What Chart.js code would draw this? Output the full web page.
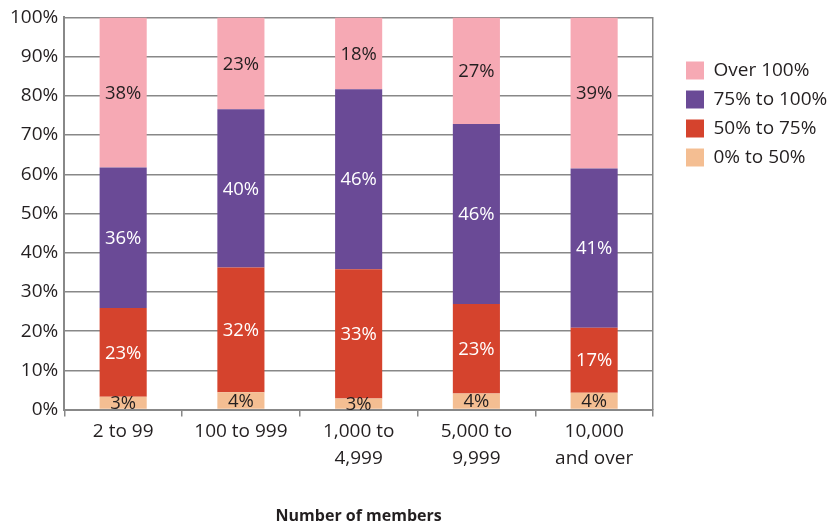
<!DOCTYPE html>
<html>
<head>
<meta charset="utf-8">
<script src="https://cdn.jsdelivr.net/npm/chart.js@4.4.1/dist/chart.umd.min.js"></script>
<style>
    html, body { margin: 0; padding: 0; background: #fff; }
    #wrap { width: 828px; height: 528px; }
</style>
</head>
<body>
<div id="wrap"><canvas id="chart"></canvas></div>
<script>
// categories along the x axis
var categories = ["2 to 99", "100 to 999", ["1,000 to", "4,999"], ["5,000 to", "9,999"], ["10,000", "and over"]];
var seriesNames = ["0% to 50%", "50% to 75%", "75% to 100%", "Over 100%"];

// share of plans in each funding band
var under50 = [3.3, 4.4, 2.8, 4.1, 4.3];
var from50to75 = [22.6, 31.8, 33.0, 22.8, 16.6];
var from75to100 = [35.8, 40.4, 45.9, 45.9, 40.6];
var over100 = [38.3, 23.4, 18.3, 27.2, 38.5];

var yMin = 0, yMax = 100, yStep = 10;

var barColors = ["#f4be92", "#d5432d", "#6a4a96", "#f6a9b4"];
var labelColors = ["#231f20", "#ffffff", "#ffffff", "#231f20"];
var gridColor = "#888888";

Chart.defaults.font.family = "'Open Sans', sans-serif";
Chart.defaults.color = "#231f20";

// writes the percentage in the middle of every segment
var segmentLabels = {
    id: 'segmentLabels',
    afterDatasetsDraw: function(chart) {
        var ctx = chart.ctx;
        ctx.save();
        ctx.font = "18.5px 'Open Sans', sans-serif";
        ctx.textAlign = 'center';
        ctx.textBaseline = 'middle';
        chart.data.datasets.forEach(function(ds, i) {
            var meta = chart.getDatasetMeta(i);
            meta.data.forEach(function(bar, j) {
                ctx.fillStyle = labelColors[i];
                ctx.fillText(Math.round(ds.data[j]) + '%', bar.x, (bar.y + bar.base) / 2 + 1);
            });
        });
        ctx.restore();
    }
};

// give the legend a fixed width so the longest label is not cut
var legendWidth = {
    id: 'legendWidth',
    beforeInit: function(chart) {
        var fit = chart.legend.fit;
        chart.legend.fit = function() {
            fit.call(this);
            this.width = 152;
        };
    }
};

var allSeries = [under50, from50to75, from75to100, over100];
var datasets = allSeries.map(function(values, i) {
    return {
        label: seriesNames[i],
        data: values,
        backgroundColor: barColors[i],
        borderWidth: 0,
        categoryPercentage: 0.4,
        barPercentage: 1
    };
});

new Chart(document.getElementById('chart'), {
    type: 'bar',
    data: { labels: categories, datasets: datasets },
    options: {
        responsive: true,
        maintainAspectRatio: false,
        animation: false,
        layout: { padding: { left: 4, top: 6, right: 0, bottom: 0 } },
        plugins: {
            tooltip: { enabled: false },
            legend: {
                position: 'right',
                align: 'start',
                reverse: true,
                title: { display: true, text: '', font: { size: 10, lineHeight: 1 }, padding: { top: 0, bottom: 35 } },
                labels: {
                    boxWidth: 18,
                    boxHeight: 18,
                    padding: 10,
                    font: { size: 19 },
                    color: '#231f20'
                }
            }
        },
        scales: {
            x: {
                stacked: true,
                grid: {
                    offset: true,
                    drawOnChartArea: false,
                    drawTicks: true,
                    tickLength: 7,
                    color: gridColor,
                    lineWidth: 1.5
                },
                border: { color: gridColor, width: 2 },
                ticks: { font: { size: 19, lineHeight: 1.4 }, padding: 2, color: '#231f20', maxRotation: 0 },
                title: {
                    display: true,
                    text: 'Number of members',
                    font: { size: 16, weight: 'bold' },
                    color: '#231f20',
                    padding: { top: 33, bottom: 2 }
                }
            },
            y: {
                stacked: true,
                min: yMin,
                max: yMax,
                ticks: {
                    stepSize: yStep,
                    padding: 6,
                    font: { size: 19 },
                    color: '#231f20',
                    callback: function(v) { return v + '%'; }
                },
                grid: { color: gridColor, lineWidth: 1.5, drawTicks: false },
                border: { color: gridColor, width: 2 }
            },
            yRight: {
                position: 'right',
                min: yMin,
                max: yMax,
                ticks: { display: false },
                grid: { display: false },
                border: { color: gridColor, width: 1.5 },
                afterFit: function(scale) { scale.width = 23; }
            }
        }
    },
    plugins: [segmentLabels, legendWidth]
});
</script>
</body>
</html>
